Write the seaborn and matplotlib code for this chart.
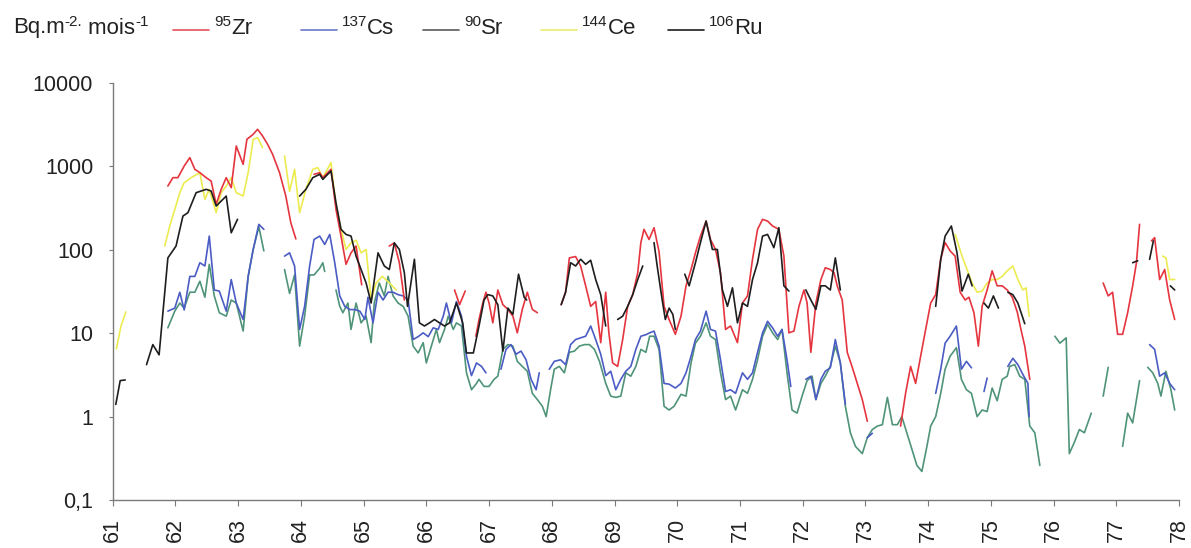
import matplotlib
matplotlib.use("Agg")
import matplotlib.pyplot as plt
from matplotlib.lines import Line2D
import seaborn as sns
import pandas as pd

# Monthly fallout deposits (Bq.m-2 per month).
# Each isotope is a list of continuous segments of (year, value) points;
# a new segment starts wherever the curve is interrupted.

zr95 = [
    [(61.88, 582), (61.96, 733), (62.04, 733), (62.14, 1010), (62.23, 1275), (62.31, 923),
     (62.39, 842), (62.49, 733), (62.57, 668), (62.65, 351), (62.73, 531), (62.81, 733),
     (62.89, 556), (62.97, 1758), (63.08, 1059), (63.14, 2115), (63.24, 2427), (63.31, 2787),
     (63.39, 2317), (63.47, 1841), (63.55, 1396), (63.66, 842), (63.76, 441), (63.84, 211),
     (63.92, 135)],
    [(64.21, 804), (64.30, 842), (64.35, 733), (64.48, 923), (64.56, 305), (64.64, 146),
     (64.72, 67), (64.80, 92), (64.88, 111), (64.97, 38)],
    [(65.41, 111), (65.49, 121), (65.57, 70), (65.65, 25)],
    [(66.45, 33), (66.53, 22), (66.62, 32)],
    [(66.79, 9.2), (66.84, 14.6), (66.90, 23), (66.95, 31), (67.00, 23), (67.06, 13.3),
     (67.14, 33), (67.22, 22), (67.30, 19.3), (67.38, 16), (67.45, 10.1), (67.53, 19.3),
     (67.61, 31), (67.69, 19.3), (67.77, 17.6)],
    [(68.15, 22), (68.22, 31), (68.28, 80), (68.38, 83), (68.46, 64), (68.54, 37),
     (68.62, 21), (68.70, 24), (68.78, 7.7), (68.86, 31), (68.91, 10.1), (68.97, 4.4),
     (69.05, 4.0), (69.13, 8.4), (69.21, 21), (69.29, 29), (69.37, 53), (69.42, 122),
     (69.47, 176), (69.55, 133), (69.63, 184), (69.71, 95), (69.79, 21), (69.87, 14.6),
     (69.97, 9.7), (70.06, 16), (70.14, 37), (70.22, 58), (70.29, 92), (70.37, 146),
     (70.46, 221), (70.53, 133), (70.61, 101), (70.69, 53), (70.77, 11.1), (70.85, 12.2),
     (70.96, 7.7), (71.04, 23), (71.12, 28), (71.20, 77), (71.28, 176), (71.36, 232),
     (71.44, 221), (71.52, 193), (71.62, 176), (71.70, 84), (71.78, 10.1), (71.86, 10.6),
     (71.94, 21), (72.02, 33), (72.07, 23), (72.13, 5.9), (72.21, 23), (72.29, 44),
     (72.36, 61), (72.44, 58), (72.50, 53), (72.55, 37), (72.63, 25), (72.71, 5.9),
     (72.79, 3.9), (72.87, 2.5), (72.95, 1.6), (73.03, 0.88)],
    [(73.56, 0.77), (73.64, 1.9), (73.72, 4.0), (73.80, 2.5), (73.88, 5.3), (73.96, 11.1),
     (74.04, 23), (74.12, 29), (74.20, 77), (74.27, 122), (74.35, 97), (74.43, 84),
     (74.51, 31), (74.59, 25), (74.65, 27), (74.73, 17.6), (74.80, 7.0), (74.86, 21),
     (74.94, 33), (75.02, 56), (75.10, 37), (75.18, 37), (75.26, 33), (75.34, 27),
     (75.42, 18), (75.48, 11), (75.54, 7.0), (75.62, 2.8)],
    [(76.79, 40), (76.87, 28), (76.94, 31), (77.02, 9.7), (77.10, 9.7), (77.18, 17.6),
     (77.26, 37), (77.32, 70), (77.37, 202)],
    [(77.56, 128), (77.61, 140), (77.69, 44), (77.77, 58), (77.85, 25), (77.93, 14.6)],
]

cs137 = [
    [(61.88, 18.4), (61.99, 20), (62.07, 31), (62.14, 19), (62.23, 48), (62.31, 48),
     (62.39, 70), (62.47, 64), (62.54, 146), (62.62, 33), (62.70, 32), (62.81, 18.4),
     (62.89, 44), (62.97, 23), (63.08, 14.6), (63.16, 48), (63.24, 101), (63.33, 202),
     (63.41, 176)],
    [(63.74, 84), (63.82, 92), (63.90, 64), (63.98, 11.1), (64.06, 21), (64.14, 64),
     (64.21, 133), (64.30, 146), (64.38, 116), (64.46, 153), (64.54, 70), (64.62, 28),
     (64.70, 21), (64.78, 19.2), (64.86, 19.2), (64.94, 18.4), (65.02, 14.6), (65.07, 27),
     (65.15, 13.3), (65.23, 31), (65.31, 25), (65.39, 31), (65.47, 31), (65.55, 29),
     (65.63, 28), (65.71, 25), (65.79, 8.4), (65.87, 9.1), (65.95, 10.1), (66.03, 9.1),
     (66.11, 11.6), (66.19, 11.1), (66.27, 16), (66.32, 23), (66.40, 13.3), (66.48, 24),
     (66.56, 16), (66.64, 5.3), (66.72, 3.1), (66.80, 4.4), (66.88, 4.0), (66.95, 3.35)],
    [(67.19, 3.7), (67.27, 6.4), (67.35, 7.3), (67.43, 5.6), (67.51, 6.1), (67.59, 4.8),
     (67.67, 2.8), (67.75, 2.1), (67.80, 3.35)],
    [(67.96, 3.7), (68.04, 4.6), (68.14, 4.8), (68.22, 4.2), (68.30, 7.3), (68.38, 8.4),
     (68.46, 8.8), (68.54, 9.2), (68.62, 12.2), (68.70, 8.4), (68.78, 5.6), (68.86, 3.1),
     (68.94, 3.5), (69.02, 2.1), (69.10, 2.8), (69.18, 3.5), (69.26, 4.0), (69.34, 6.4),
     (69.42, 9.2), (69.50, 9.6), (69.56, 10.1), (69.63, 10.6), (69.71, 7.0), (69.79, 2.5),
     (69.87, 2.45), (69.97, 2.2), (70.06, 2.5), (70.14, 3.35), (70.22, 5.3), (70.29, 8.4),
     (70.37, 10.6), (70.46, 18.4), (70.53, 11.1), (70.61, 10.6), (70.69, 4.8), (70.77, 2.0),
     (70.85, 2.1), (70.93, 1.9), (71.04, 3.35), (71.12, 2.8), (71.20, 3.35), (71.28, 5.9),
     (71.36, 10.1), (71.44, 13.9), (71.52, 11.6), (71.60, 9.2), (71.67, 11.1), (71.75, 4.8),
     (71.81, 2.3)],
    [(72.05, 2.8), (72.13, 3.05), (72.21, 1.6), (72.29, 2.8), (72.36, 3.5), (72.44, 3.85),
     (72.52, 8.4), (72.60, 4.4), (72.68, 1.4)],
    [(73.03, 0.56), (73.11, 0.63)],
    [(74.12, 1.9), (74.20, 3.7), (74.27, 7.6), (74.35, 9.2), (74.45, 12.2), (74.53, 3.7),
     (74.61, 4.6), (74.69, 3.85)],
    [(74.89, 2.0), (74.94, 2.9)],
    [(75.27, 4.0), (75.35, 5.0), (75.43, 4.2), (75.51, 3.2), (75.59, 2.5), (75.61, 1.0)],
    [(77.53, 7.3), (77.61, 6.4), (77.69, 3.05), (77.77, 3.35), (77.85, 2.5), (77.93, 2.1)],
]

sr90 = [
    [(61.88, 11.6), (61.99, 18.4), (62.07, 23), (62.14, 20), (62.23, 31), (62.31, 31),
     (62.39, 42), (62.47, 27), (62.54, 67), (62.62, 28), (62.70, 17.6), (62.81, 16),
     (62.89, 25), (62.97, 23), (63.08, 10.6), (63.16, 48), (63.24, 101), (63.33, 190),
     (63.41, 97)],
    [(63.74, 58), (63.82, 30), (63.90, 50), (63.98, 7), (64.06, 16), (64.14, 50),
     (64.21, 50), (64.30, 60), (64.35, 70), (64.38, 55)],
    [(64.56, 33), (64.62, 21), (64.67, 17.6), (64.75, 23), (64.80, 11.1), (64.88, 23),
     (64.96, 13.3), (65.04, 16), (65.12, 7.7), (65.17, 23), (65.25, 40), (65.33, 28),
     (65.39, 48), (65.47, 28), (65.55, 23), (65.63, 21), (65.71, 16), (65.79, 7),
     (65.87, 5.8), (65.95, 7.7), (66.00, 4.4), (66.08, 7), (66.16, 11.1), (66.21, 7.7),
     (66.29, 11.1), (66.35, 16), (66.43, 11.1), (66.48, 13.3), (66.56, 12.2), (66.64, 3.35),
     (66.72, 2.1), (66.80, 2.5), (66.84, 2.8), (66.92, 2.3), (67.00, 2.3), (67.08, 2.8),
     (67.14, 3.05), (67.22, 6.4), (67.30, 7.3), (67.38, 7.0), (67.45, 4.6), (67.53, 4.0),
     (67.61, 3.5), (67.69, 1.9), (67.77, 1.6), (67.85, 1.33), (67.91, 1.0), (67.99, 2.3),
     (68.04, 3.7), (68.12, 4.0), (68.20, 3.35), (68.28, 5.9), (68.36, 6.1), (68.44, 7.0),
     (68.52, 7.3), (68.60, 7.3), (68.68, 6.4), (68.76, 4.6), (68.86, 2.5), (68.94, 1.76),
     (69.02, 1.7), (69.10, 1.76), (69.18, 3.35), (69.26, 3.05), (69.34, 4.0), (69.42, 6.4),
     (69.50, 5.9), (69.56, 9.2), (69.63, 9.2), (69.71, 6.4), (69.79, 1.33), (69.87, 1.2),
     (69.95, 1.33), (70.06, 1.85), (70.14, 1.76), (70.22, 4.4), (70.29, 7.6), (70.37, 9.2),
     (70.46, 13.3), (70.53, 9.2), (70.61, 8.4), (70.69, 3.35), (70.77, 1.6), (70.85, 1.76),
     (70.93, 1.2), (71.04, 2.1), (71.12, 1.9), (71.20, 2.8), (71.28, 4.8), (71.36, 9.2),
     (71.44, 12.8), (71.52, 10.1), (71.60, 8.4), (71.67, 11.1), (71.75, 3.35), (71.83, 1.2),
     (71.91, 1.1), (71.99, 1.76), (72.07, 2.7), (72.15, 3.05), (72.21, 1.6), (72.29, 2.5),
     (72.36, 3.05), (72.44, 4.0), (72.52, 7.0), (72.60, 4.4), (72.68, 1.33), (72.76, 0.64),
     (72.84, 0.44), (72.95, 0.36), (73.03, 0.56), (73.11, 0.70), (73.19, 0.77), (73.27, 0.80),
     (73.35, 1.7), (73.43, 0.80), (73.51, 0.80), (73.58, 1.0), (73.66, 0.64), (73.74, 0.41),
     (73.82, 0.26), (73.90, 0.22), (73.98, 0.44), (74.04, 0.77), (74.12, 1.0), (74.20, 1.9),
     (74.27, 3.7), (74.35, 5.3), (74.45, 6.7), (74.53, 2.8), (74.61, 2.1), (74.69, 1.9),
     (74.78, 1.0), (74.86, 1.2), (74.94, 1.15), (75.02, 2.2), (75.10, 1.55), (75.18, 2.8),
     (75.26, 3.05), (75.30, 4.0), (75.38, 4.2), (75.46, 3.05), (75.54, 2.8), (75.62, 0.77),
     (75.70, 0.64), (75.78, 0.26)],
    [(76.02, 9.2), (76.10, 7.6), (76.20, 8.8), (76.25, 0.36), (76.33, 0.49), (76.41, 0.70),
     (76.49, 0.64), (76.60, 1.1)],
    [(76.79, 1.76), (76.87, 3.9)],
    [(77.10, 0.44), (77.18, 1.1), (77.26, 0.84), (77.37, 2.7)],
    [(77.50, 3.9), (77.58, 3.35), (77.66, 2.5), (77.71, 1.76), (77.79, 3.5), (77.87, 2.1),
     (77.93, 1.2)],
]

ce144 = [
    [(61.06, 6.5), (61.13, 12), (61.21, 18)],
    [(61.83, 111), (61.91, 193), (61.99, 305), (62.07, 484), (62.14, 638), (62.25, 733),
     (62.39, 842), (62.47, 403), (62.54, 531), (62.65, 279), (62.73, 484), (62.81, 582),
     (62.89, 733), (62.97, 484), (63.08, 441), (63.16, 842), (63.24, 2115), (63.31, 2213),
     (63.39, 1679)],
    [(63.74, 1334), (63.82, 500), (63.90, 923), (63.98, 279), (64.08, 531), (64.19, 923),
     (64.27, 967), (64.35, 733), (64.48, 1110), (64.56, 335), (64.64, 176), (64.72, 101),
     (64.80, 121), (64.88, 130), (64.96, 92), (65.04, 101), (65.12, 25), (65.20, 40),
     (65.30, 48), (65.41, 40), (65.52, 33)],
    [(74.43, 153), (74.54, 84), (74.62, 58), (74.70, 40), (74.78, 31), (74.86, 32),
     (74.94, 40), (75.02, 44), (75.10, 44), (75.18, 48), (75.26, 56), (75.35, 64),
     (75.43, 44), (75.51, 33), (75.56, 35), (75.61, 16)],
    [(77.74, 84), (77.79, 80), (77.85, 44), (77.93, 44)],
]

ru106 = [
    [(61.05, 1.4), (61.12, 2.7), (61.20, 2.75)],
    [(61.54, 4.2), (61.64, 7.3), (61.74, 5.5), (61.88, 80), (62.01, 111), (62.12, 254),
     (62.20, 279), (62.33, 484), (62.49, 531), (62.57, 507), (62.65, 335), (62.81, 441),
     (62.89, 160), (62.99, 232)],
    [(63.98, 441), (64.08, 531), (64.19, 733), (64.30, 804), (64.35, 700), (64.48, 881),
     (64.56, 367), (64.64, 176), (64.72, 153), (64.80, 146), (64.88, 84), (64.96, 58),
     (65.04, 40), (65.12, 23), (65.23, 92), (65.33, 64), (65.41, 58), (65.49, 121),
     (65.57, 101), (65.65, 53), (65.70, 21), (65.81, 77), (65.89, 13.3), (65.97, 12.2),
     (66.05, 13.3), (66.13, 14.6), (66.21, 13.3), (66.29, 12.2), (66.37, 13.3), (66.48, 23),
     (66.58, 13.3), (66.64, 5.8), (66.75, 5.8), (66.84, 12.2), (66.92, 25), (66.98, 29),
     (67.06, 28), (67.14, 22), (67.22, 6.1), (67.30, 20), (67.38, 16.8), (67.47, 51),
     (67.56, 27), (67.60, 25)],
    [(68.15, 22), (68.22, 31), (68.30, 70), (68.38, 64), (68.46, 77), (68.54, 67),
     (68.62, 75), (68.70, 44), (68.78, 29), (68.86, 12.2)],
    [(69.05, 14.6), (69.13, 16), (69.21, 21), (69.29, 29), (69.37, 44), (69.45, 64)],
    [(69.63, 122), (69.68, 64), (69.76, 25), (69.81, 14.6), (69.87, 20), (69.93, 16.8),
     (69.97, 11.1)],
    [(70.12, 51), (70.19, 37), (70.29, 70), (70.37, 122), (70.46, 221), (70.56, 101),
     (70.64, 101), (70.72, 33), (70.80, 21), (70.88, 35), (70.96, 13.3), (71.04, 23),
     (71.12, 21), (71.20, 44), (71.28, 70), (71.36, 146), (71.44, 153), (71.54, 106),
     (71.62, 184), (71.70, 37), (71.78, 32)],
    [(72.05, 33), (72.13, 25), (72.21, 19.3), (72.29, 37), (72.36, 37), (72.44, 33),
     (72.52, 80), (72.60, 33)],
    [(74.12, 21), (74.20, 77), (74.27, 146), (74.37, 193), (74.46, 92), (74.54, 32),
     (74.64, 51), (74.70, 37)],
    [(74.89, 23), (74.96, 20), (75.04, 28), (75.12, 20)],
    [(75.27, 31), (75.35, 29), (75.43, 23), (75.54, 13)],
    [(77.26, 70), (77.34, 74)],
    [(77.53, 77), (77.59, 128)],
    [(77.86, 37), (77.93, 33)],
]

series = {"Sr": sr90, "Cs": cs137, "Ce": ce144, "Zr": zr95, "Ru": ru106}
colors = {"Sr": "#4f9478", "Cs": "#4b5cc4", "Ce": "#ecec50", "Zr": "#e5353f", "Ru": "#1e1e1e"}

year_ticks = list(range(61, 79))
y_ticks = [0.1, 1, 10, 100, 1000, 10000]
y_labels = ["0,1", "1", "10", "100", "1000", "10000"]

# long-form table, one "seg" id per continuous piece of curve
rows = []
for iso, segs in series.items():
    for i, seg in enumerate(segs):
        for yr, v in seg:
            rows.append((iso, f"{iso}_{i}", yr, v))
df = pd.DataFrame(rows, columns=["isotope", "seg", "year", "value"])

sns.set_style("ticks")
plt.rcParams["font.family"] = ["Liberation Sans", "DejaVu Sans"]

fig = plt.figure(figsize=(11.91, 5.48), dpi=100)
ax = fig.add_axes([0.0946, 0.0876, 0.8954, 0.7609])

sns.lineplot(data=df, x="year", y="value", hue="isotope", units="seg", estimator=None,
             hue_order=list(series.keys()), palette=colors, sort=False,
             linewidth=1.2, legend=False, ax=ax)

ax.set_yscale("log")
ax.set_ylim(0.1, 10000)
ax.set_xlim(61, 78)
ax.set_yticks(y_ticks)
ax.set_yticklabels(y_labels)
ax.yaxis.set_minor_locator(matplotlib.ticker.NullLocator())
ax.set_xticks(year_ticks)
ax.set_xticklabels([str(y) for y in year_ticks], rotation=90)
ax.set_xlabel("")
ax.set_ylabel("")

sns.despine(ax=ax)
for side in ["left", "bottom"]:
    ax.spines[side].set_color("#7a7a7a")
    ax.spines[side].set_linewidth(1.0)
ax.tick_params(axis="y", length=3, width=0.8, color="#7a7a7a", pad=11,
               labelsize=15.5, labelcolor="#222222")
ax.tick_params(axis="x", length=4, width=0.8, color="#7a7a7a", pad=9,
               labelsize=15.5, labelcolor="#222222")

# header legend, drawn by hand in one row like the original:
# plain text pieces with small raised superscripts
W, H = 1191.0, 548.0
ty = 1 - 28 / H
sy = 1 - 22 / H
big, small = 16, 11
tc = "#222222"


def head_text(x_px, parts):
    # parts: list of (text, is_superscript); returns right edge in px
    r = fig.canvas.get_renderer()
    x = x_px
    for s, sup in parts:
        t = fig.text(x / W, sy if sup else ty, s, fontsize=small if sup else big,
                     va="center", color=tc)
        x += t.get_window_extent(renderer=r).width
    return x


head_text(13, [("Bq.m", False), ("-2.", True), (" mois", False), ("-1", True)])
legend_items = [
    (173, "#e5505a", "95", "Zr"),
    (301, "#6a78c8", "137", "Cs"),
    (423, "#5a5a5a", "90", "Sr"),
    (541, "#ecec70", "144", "Ce"),
    (668, "#1e1e1e", "106", "Ru"),
]
for x0, col, mass, sym in legend_items:
    fig.add_artist(Line2D([x0 / W, (x0 + 36) / W], [1 - 30 / H, 1 - 30 / H],
                          transform=fig.transFigure, color=col, lw=1.2))
    head_text(x0 + 41, [(mass, True), (sym, False)])

fig.savefig("out.png", dpi=100)
plt.close(fig)
